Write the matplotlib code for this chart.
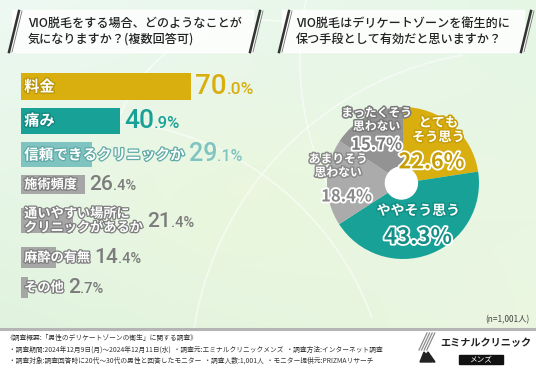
import numpy as np
import matplotlib
matplotlib.use("Agg")
import matplotlib.pyplot as plt
import matplotlib.patheffects as pe
from matplotlib.patches import Rectangle, Circle, Arc

plt.rcParams['font.family'] = ['Noto Sans CJK JP', 'DejaVu Sans']

# ----- datos -----
bar_labels = ["料金", "痛み", "信頼できるクリニックか", "施術頻度",
              "通いやすい場所に\nクリニックがあるか", "麻酔の有無", "その他"]
bar_values = [70.0, 40.9, 29.1, 26.4, 21.4, 14.4, 2.7]

pie_labels = ["とても\nそう思う", "ややそう思う", "あまりそう\n思わない", "まったくそう\n思わない"]
pie_values = [22.6, 43.3, 18.4, 15.7]

title_left = "VIO脱毛をする場合、どのようなことが\n気になりますか？(複数回答可)"
title_right = "VIO脱毛はデリケートゾーンを衛生的に\n保つ手段として有効だと思いますか？"
n_text = "(n=1,001人)"
footer_lines = [
    "《調査概要:「男性のデリケートゾーンの衛生」に関する調査》",
    "・調査期間:2024年12月9日(月)～2024年12月11日(水)  ・調査元:エミナルクリニックメンズ  ・調査方法:インターネット調査",
    "・調査対象:調査回答時に20代～30代の男性と回答したモニター  ・調査人数:1,001人  ・モニター提供元:PRIZMAリサーチ",
]

# ----- estilo -----
GOLD = "#D9AF10"
TEAL = "#18A297"
LTEAL = "#80C4C1"
GRAY = "#A6A6A6"
bar_colors = [GOLD, TEAL, LTEAL, GRAY, GRAY, GRAY, GRAY]
value_colors = [GOLD, TEAL, LTEAL, "#7C7C7C", "#7C7C7C", "#7C7C7C", "#7C7C7C"]
label_stroke = ["#B8940A", "#11867D", "#5FAAA7", "#7E7E7E", "#7E7E7E", "#7E7E7E", "#7E7E7E"]
label_fs = [11, 11, 10.5, 9.5, 9.5, 9.5, 9.5]
big_fs = [20, 19, 18, 15, 15, 15, 15]
small_fs = [12.5, 12, 11.5, 10.5, 10.5, 10.5, 10.5]
# centros y alturas de barras en pixeles (layout)
bar_y = [86.5, 120.5, 154.5, 184.5, 220.5, 257.5, 287.5]
bar_h = [27, 26, 25, 19, 25, 21, 21]

pie_colors = [GOLD, TEAL, "#ABABAB", "#939393"]
pie_dark = ["#C79E08", "#138F86", "#8A8A8A", "#7A7A7A"]
pie_dist = [0.60, 0.54, 0.76, 0.70]
name_fs = [9.5, 10, 8.5, 8.5]
pct_fs = [15.5, 16, 12, 12]
name_off = [(3, 12), (0, 9), (-3, 12), (0, 10)]
pct_off = [(-2, -11), (0, -10), (3, -10), (0, -8)]

W, H = 536, 371
fig = plt.figure(figsize=(W / 100, H / 100), dpi=100)

# ----- fondo -----
bg = fig.add_axes([0, 0, 1, 1])
bg.set_xlim(0, W)
bg.set_ylim(H, 0)
bg.axis('off')

yy, xx = np.mgrid[0:1:120j, 0:1:180j]
c_tl = np.array([0.93, 0.975, 0.95])
c_tr = np.array([0.90, 0.965, 0.90])
c_bl = np.array([0.88, 0.955, 0.87])
c_br = np.array([0.92, 0.965, 0.88])
img = (c_tl * ((1 - xx) * (1 - yy))[..., None] + c_tr * (xx * (1 - yy))[..., None]
       + c_bl * ((1 - xx) * yy)[..., None] + c_br * (xx * yy)[..., None])
mid = np.exp(-((xx - 0.45) ** 2 + (yy - 0.6) ** 2) / 0.08)[..., None]
img = img * (1 - 0.5 * mid) + np.array([0.93, 0.97, 0.85]) * 0.5 * mid
bg.imshow(img, extent=[0, W, 330, 0], aspect='auto', zorder=0)

for (cx, cy, r, a1, a2) in [(520, 380, 330, 180, 260), (90, 420, 300, 270, 340),
                            (260, 170, 150, 200, 300), (600, 60, 300, 140, 200)]:
    bg.add_patch(Arc((cx, cy), 2 * r, 2 * r, theta1=a1, theta2=a2,
                     color="white", lw=1.2, alpha=0.55, zorder=1))

# pie de pagina
bg.add_patch(Rectangle((0, 329), W, H - 329, color="white", zorder=2))
bg.plot([0, W], [329, 329], color="#B5B5B5", lw=2.2, zorder=3)

# cajas de titulo
for x0, x1, ttl, tx in [(12, 253, title_left, 28), (282, 524, title_right, 296)]:
    bg.add_patch(Rectangle((x0, 10), x1 - x0, 42, color="white", alpha=0.85, zorder=2))
    for sx in (x0, x1):
        bg.plot([sx + 7, sx - 3], [11, 52], color="#333333", lw=1.8, zorder=3)
        bg.plot([sx + 10, sx], [11, 52], color="#777777", lw=0.6, zorder=3)
    bg.text(tx, 31, ttl, fontsize=8.7, color="#222222", va='center', ha='left',
            linespacing=1.3, fontweight='medium', zorder=4)

bg.text(530, 320, n_text, fontsize=6, color="#444444", ha='right', va='center', zorder=4)
for i, line in enumerate(footer_lines):
    bg.text(6 if i == 0 else 9, 338 + i * 11.5, line, fontsize=4.85, color="#333333",
            ha='left', va='center', zorder=4)

# logo
for k in range(4):
    bg.plot([427 + k * 2.6, 419 + k * 2.6], [333, 350], color="#8C8C8C", lw=0.9, zorder=4)
bg.fill([420, 424, 432, 428], [362, 352, 362, 362], color="#222222", zorder=4)
bg.fill([425, 428, 435, 433], [356, 352, 362, 362], color="#222222", zorder=4)
bg.text(486, 343, "エミナルクリニック", fontsize=7.3, fontweight='bold', color="#222222",
        ha='center', va='center', zorder=4)
bg.add_patch(Rectangle((459, 355), 44, 9, color="#111111", zorder=4))
bg.text(481, 359.5, "メンズ", fontsize=5.5, color="white", ha='center', va='center', zorder=5)

# ----- barras -----
ax = fig.add_axes([21 / W, 0, 243 / W, 1])
ax.set_xlim(0, 100)
ax.set_ylim(H, 0)
ax.axis('off')
ax.patch.set_alpha(0)
ax.barh(bar_y, bar_values, height=bar_h, color=bar_colors, left=0)

label_txt = []
for i, lab in enumerate(bar_labels):
    t = ax.text(1.3, bar_y[i], lab, fontsize=label_fs[i], color="white", ha='left',
                va='center', linespacing=1.0, fontweight='bold',
                path_effects=[pe.withStroke(linewidth=1.8, foreground=label_stroke[i])])
    label_txt.append(t)

fig.canvas.draw()
renderer = fig.canvas.get_renderer()
inv = ax.transData.inverted()
for i, v in enumerate(bar_values):
    ext = label_txt[i].get_window_extent(renderer)
    x_text = inv.transform((ext.x1, 0))[0]
    x0 = max(v, x_text) + 1.6
    ent, dec = f"{v:.1f}".split(".")
    base = bar_y[i] + bar_h[i] / 2 * 0.55
    tb = ax.text(x0, base, ent, fontsize=big_fs[i], color=value_colors[i], ha='left',
                 va='baseline', family='Roboto', fontweight='medium')
    fig.canvas.draw()
    e2 = tb.get_window_extent(renderer)
    x1 = inv.transform((e2.x1, 0))[0]
    ax.text(x1, base, "." + dec + "%", fontsize=small_fs[i], color=value_colors[i],
            ha='left', va='baseline', family='Roboto', fontweight='medium')

# ----- circular -----
pax = fig.add_axes([(403 - 100) / W, 1 - (183 + 100) / H, 200 / W, 200 / H])
pax.set_xlim(-1, 1)
pax.set_ylim(-1, 1)
pax.set_aspect('equal')
pax.axis('off')
wedges, _ = pax.pie(pie_values, colors=pie_colors, startangle=90, counterclock=False,
                    radius=0.95, wedgeprops=dict(linewidth=0))
pax.add_patch(Circle((-0.02, 0.0), 0.2, color="white", zorder=3))

for i, w in enumerate(wedges):
    ang = np.deg2rad((w.theta1 + w.theta2) / 2)
    px, py = pie_dist[i] * np.cos(ang), pie_dist[i] * np.sin(ang)
    pax.annotate(pie_labels[i], (px, py), xytext=name_off[i], textcoords='offset points',
                 ha='center', va='center', fontsize=name_fs[i], color="white",
                 fontweight='bold', linespacing=1.05, zorder=5,
                 path_effects=[pe.withStroke(linewidth=2.2, foreground=pie_dark[i])])
    pax.annotate(f"{pie_values[i]:.1f}%", (px, py), xytext=pct_off[i],
                 textcoords='offset points', ha='center', va='center',
                 fontsize=pct_fs[i], color=pie_dark[i], fontweight='bold', zorder=5,
                 path_effects=[pe.withStroke(linewidth=2.6, foreground="white")])

fig.savefig("out.png", dpi=100)
